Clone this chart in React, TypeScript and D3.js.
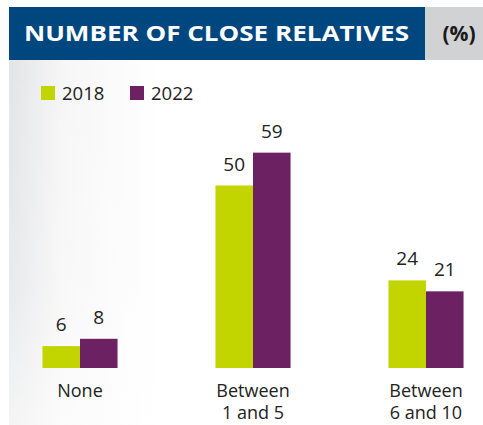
import React from "react";
import * as d3 from "d3";

const categories = ["None", "Between 1 and 5", "Between 6 and 10"];
const categoryLines = [["None"], ["Between", "1 and 5"], ["Between", "6 and 10"]];
const seriesNames = ["2018", "2022"];
const values2018 = [6, 50, 24];
const values2022 = [8, 59, 21];
const title = "NUMBER OF CLOSE RELATIVES";
const unitLabel = "(%)";

const W = 483;
const H = 425;
const colors = ["#C2D500", "#6C2162"];
const FONT = "'Open Sans', 'Noto Sans', sans-serif";

export default function App() {
  const baseline = 368;
  const y = d3.scaleLinear().domain([0, 60]).range([baseline, baseline - 219]);
  const x0 = d3
    .scaleBand<string>()
    .domain(categories)
    .range([-6.5, 512.5])
    .paddingInner(0.566)
    .paddingOuter(0.283);
  const x1 = d3.scaleBand<string>().domain(seriesNames).range([0, x0.bandwidth()]);
  const series = [values2018, values2022];

  return (
    <svg
      width={W}
      height={H}
      style={{ position: "absolute", left: 0, top: 0, background: "#fff" }}
    >
      <defs>
        <linearGradient id="bgGrad" x1="0" y1="0" x2="1" y2="0">
          <stop offset="0" stopColor="#e3e4e6" />
          <stop offset="0.35" stopColor="#f6f6f7" />
          <stop offset="1" stopColor="#ffffff" />
        </linearGradient>
        <linearGradient id="vFade" x1="0" y1="0" x2="0" y2="1">
          <stop offset="0" stopColor="#fff" stopOpacity={0} />
          <stop offset="0.6" stopColor="#fff" stopOpacity={0.2} />
          <stop offset="1" stopColor="#fff" stopOpacity={0.6} />
        </linearGradient>
      </defs>
      <rect x={9} y={60} width={150} height={H - 60} fill="url(#bgGrad)" />
      <rect x={9} y={60} width={150} height={H - 60} fill="url(#vFade)" />
      <rect x={9} y={7} width={416} height={53} fill="#00467F" />
      <rect x={425} y={7} width={W - 425} height={53} fill="#D1D2D4" />
      <text
        x={24}
        y={41}
        fill="#fff"
        fontFamily={FONT}
        fontWeight={700}
        fontSize={22}
        textLength={385}
        lengthAdjust="spacingAndGlyphs"
      >
        {title}
      </text>
      <text
        x={459}
        y={41}
        fill="#1a1a1a"
        fontFamily={FONT}
        fontWeight={700}
        fontSize={21}
        textAnchor="middle"
      >
        {unitLabel}
      </text>

      {seriesNames.map((s, i) => (
        <g key={s} transform={`translate(${41 + i * 89},86)`}>
          <rect width={14} height={14} fill={colors[i]} />
          <text x={21} y={14} fontFamily={FONT} fontSize={18.5} fill="#222">
            {s}
          </text>
        </g>
      ))}

      {categories.map((c, ci) => (
        <g key={c} transform={`translate(${x0(c)},0)`}>
          {seriesNames.map((s, si) => {
            const v = series[si][ci];
            const bx = x1(s)!;
            return (
              <g key={s}>
                <rect
                  x={bx}
                  y={y(v)}
                  width={x1.bandwidth()}
                  height={baseline - y(v)}
                  fill={colors[si]}
                />
                <text
                  x={bx + x1.bandwidth() / 2}
                  y={y(v) - 15}
                  textAnchor="middle"
                  fontFamily={FONT}
                  fontSize={19}
                  fill="#222"
                >
                  {v}
                </text>
              </g>
            );
          })}
          <text
            x={x0.bandwidth() / 2}
            y={397}
            textAnchor="middle"
            fontFamily={FONT}
            fontSize={18}
            fill="#222"
          >
            {categoryLines[ci].map((l, li) => (
              <tspan key={li} x={x0.bandwidth() / 2} dy={li === 0 ? 0 : 22}>
                {l}
              </tspan>
            ))}
          </text>
        </g>
      ))}
    </svg>
  );
}
